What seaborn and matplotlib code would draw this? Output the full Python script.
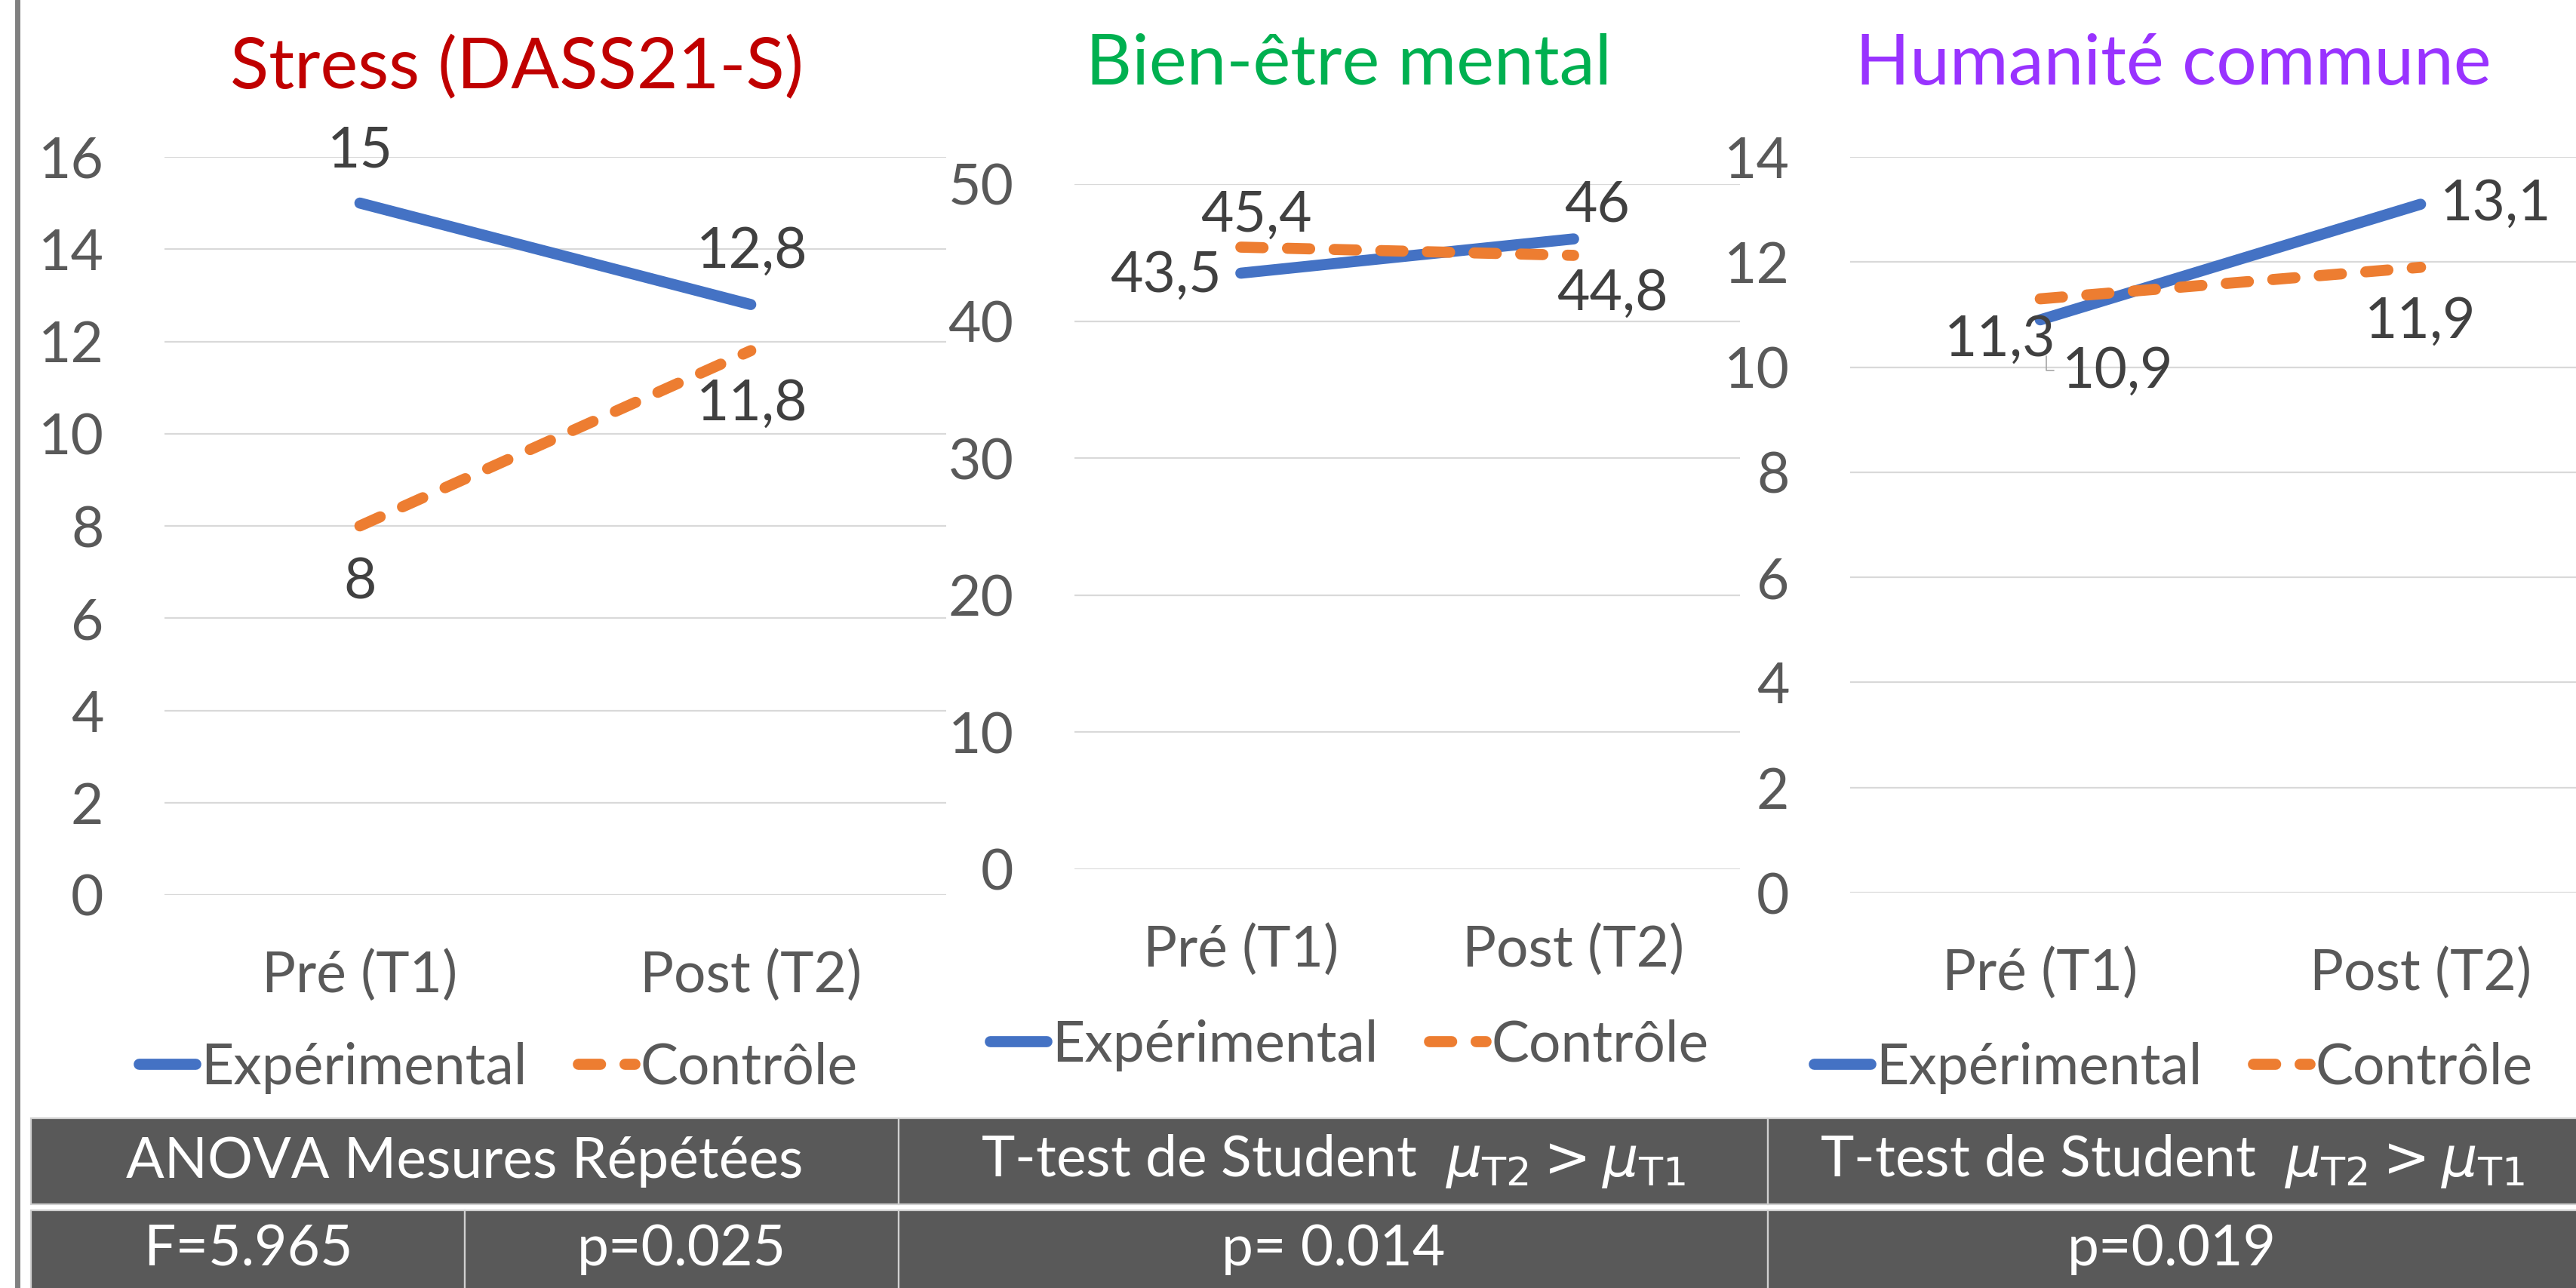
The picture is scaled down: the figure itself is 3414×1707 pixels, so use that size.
import numpy as np
import pandas as pd
import matplotlib
matplotlib.use('AGG')
import matplotlib.pyplot as plt
import seaborn as sns
from matplotlib.patches import Rectangle
from matplotlib.lines import Line2D


# ==============================================================================
#                                                                           DATA
# ==============================================================================
times = ["Pré (T1)", "Post (T2)"]
groups = ["Expérimental", "Contrôle"]

stress_exp = [15, 12.8]
stress_ctrl = [8, 11.8]
bienetre_exp = [43.5, 46]
bienetre_ctrl = [45.4, 44.8]
humanite_exp = [10.9, 13.1]
humanite_ctrl = [11.3, 11.9]

titles = ["Stress (DASS21-S)", "Bien-être mental", "Humanité commune"]
y_max = [16, 50, 14]
y_step = [2, 10, 2]

table_header = ["ANOVA Mesures Répétées",
                r"T-test de Student  $\mu_{\mathrm{T2}} > \mu_{\mathrm{T1}}$",
                r"T-test de Student  $\mu_{\mathrm{T2}} > \mu_{\mathrm{T1}}$"]
table_values = ["F=5.965", "p=0.025", "p= 0.014", "p=0.019"]


# ==============================================================================
#                                                                         LAYOUT
# ==============================================================================
W, H, DPI = 3414, 1707, 200
BLUE, ORANGE = "#4472C4", "#ED7D31"
TXT, LBL, GRID = "#595959", "#404040", "#D9D9D9"
title_colors = ["#C00000", "#00B050", "#9933FF"]
FS = 27
LW = 5.3

def fx(px):
    return px / W

def fy(py):
    return 1 - py / H

# plot boxes in pixels: left, right, top (ymax), bottom (0)
boxes = [(218, 1254, 208, 1186), (1424, 2306, 244, 1152), (2452, 3460, 208, 1183)]
title_pos = [(685, 117), (1787, 112), (2880, 112)]
legend_pos = [(660, 1415), (1788, 1385), (2880, 1415)]

# data label placement: (series, point, dx px, dy px, ha)
label_specs = [
    [(0, 0, 0, 69, "center"), (0, 1, 2, 70, "center"),
     (1, 0, 0, -75, "center"), (1, 1, 2, -71, "center")],
    [(0, 0, -26, -3, "right"), (0, 1, 31, 45, "center"),
     (1, 0, 20, 42, "center"), (1, 1, 51, -51, "center")],
    [(0, 0, 103, -68, "center"), (0, 1, 26, 0, "left"),
     (1, 0, -53, -54, "center"), (1, 1, 0, -72, "center")],
]

sns.set_theme(style="white")
plt.rcParams['font.family'] = ['Lato', 'DejaVu Sans']

fig = plt.figure(figsize=(W / DPI, H / DPI), dpi=DPI)

series = [(stress_exp, stress_ctrl), (bienetre_exp, bienetre_ctrl),
          (humanite_exp, humanite_ctrl)]

for i, (exp, ctrl) in enumerate(series):
    l, r, t, b = boxes[i]
    ax = fig.add_axes([fx(l), fy(b), fx(r) - fx(l), fy(t) - fy(b)])
    ax.patch.set_visible(False)

    df = pd.DataFrame({"temps": times * 2,
                       "groupe": [groups[0]] * 2 + [groups[1]] * 2,
                       "score": list(exp) + list(ctrl)})
    sns.lineplot(data=df, x="temps", y="score", hue="groupe", style="groupe",
                 hue_order=groups, style_order=groups, palette=[BLUE, ORANGE],
                 dashes=["", (2.0, 2.2)], sort=False, errorbar=None,
                 legend=False, ax=ax)
    for line in ax.lines:
        line.set_linewidth(LW)
        line.set_solid_capstyle("round")
        line.set_dash_capstyle("round")

    ax.set_xlim(-0.5, 1.5)
    ax.set_ylim(0, y_max[i])
    ax.set_yticks(np.arange(0, y_max[i] + 1, y_step[i]))
    ax.yaxis.grid(True, color=GRID, lw=0.8)
    ax.xaxis.grid(False)
    sns.despine(ax=ax, left=True, bottom=True)
    ax.tick_params(axis="both", length=0, labelsize=FS, colors=TXT)
    ax.tick_params(axis="y", pad=29)
    ax.tick_params(axis="x", pad=26)
    ax.set_xlabel("")
    ax.set_ylabel("")

    # Data labels
    vals = [exp, ctrl]
    for s, p, dx, dy, ha in label_specs[i]:
        v = vals[s][p]
        ax.annotate("{:g}".format(v).replace(".", ","), xy=(p, v),
                    xytext=(dx, dy), textcoords="offset pixels",
                    ha=ha, va="center", fontsize=FS, color=LBL)

    # Legend
    cx, cy = legend_pos[i]
    ax.legend(ax.lines[:2], groups, loc="center",
              bbox_to_anchor=(fx(cx), fy(cy)), bbox_transform=fig.transFigure,
              ncol=2, frameon=False, fontsize=FS, handlelength=1.0,
              handletextpad=0.1, columnspacing=0.9, labelcolor=TXT)

    # Title
    tx, ty = title_pos[i]
    fig.text(fx(tx), fy(ty), titles[i], ha="center", va="baseline",
             fontsize=34, color=title_colors[i])

# Small leader line on the "11,3" label
fig.add_artist(Line2D([fx(2712), fx(2712), fx(2722)], [fy(472), fy(491), fy(491)],
                      color="#A6A6A6", lw=0.6, transform=fig.transFigure))

# ==============================================================================
#                                                                          TABLE
# ==============================================================================
row1 = (1482, 1596)
row2 = (1604, 1730)
cols1 = [(41, 1191), (1191, 2343), (2343, 3420)]
cols2 = [(41, 616), (616, 1191), (1191, 2343), (2343, 3420)]

for cells, (top, bot), texts in [(cols1, row1, table_header),
                                 (cols2, row2, table_values)]:
    for (x0, x1), txt in zip(cells, texts):
        fig.add_artist(Rectangle((fx(x0), fy(bot)), fx(x1) - fx(x0), fy(top) - fy(bot),
                                 transform=fig.transFigure, facecolor="#595959",
                                 edgecolor="#D0D0D0", lw=0.8))
        yc = (top + min(bot, 1707)) / 2
        fig.text(fx((x0 + min(x1, 3414)) / 2), fy(yc), txt, ha="center",
                 va="center", fontsize=FS, color="white")

# Left border line
fig.add_artist(Line2D([fx(23), fx(23)], [0, 1], color="#808080", lw=2.5,
                      transform=fig.transFigure))

fig.savefig("out.png", dpi=DPI)
